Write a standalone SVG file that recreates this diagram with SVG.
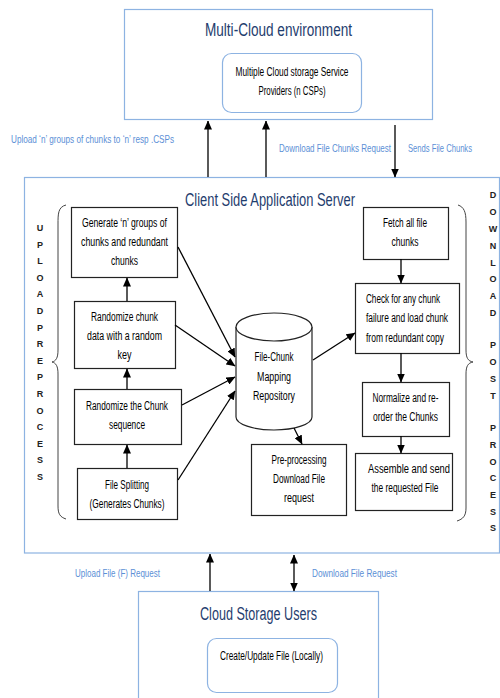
<svg xmlns="http://www.w3.org/2000/svg" width="500" height="698" viewBox="0 0 500 698">
  <defs>
    <marker id="arrow" markerUnits="userSpaceOnUse" markerWidth="9" markerHeight="8" refX="8.5" refY="4" orient="auto-start-reverse">
      <path d="M0,0 L9,4 L0,8 z" fill="#000"/>
    </marker>
    <style>
      .frame { fill: #fff; stroke: #8db3e2; stroke-width: 1.2; }
      .soft { fill: #fff; stroke: #8db3e2; stroke-width: 1.2; }
      .step { fill: #fff; stroke: #222; stroke-width: 1.2; }
      .title { font-family: "Liberation Sans", Arial, sans-serif; font-size: 18px; fill: #1f3d6e; text-anchor: middle; }
      .t { font-family: "Liberation Sans", Arial, sans-serif; font-size: 12px; fill: #000; text-anchor: middle; }
      .tl { font-family: "Liberation Sans", Arial, sans-serif; font-size: 12px; fill: #000; }
      .lbl { font-family: "Liberation Sans", Arial, sans-serif; font-size: 11px; fill: #5b8fd6; }
      .v { font-family: "Liberation Sans", Arial, sans-serif; font-size: 9px; font-weight: bold; fill: #222; text-anchor: middle; }
      .conn line, .conn path { stroke: #000; stroke-width: 1.3; fill: none; }
      .brace { fill: none; stroke: #444; stroke-width: 1; }
    </style>
  </defs>

  <rect width="500" height="698" fill="#fff"/>

  <!-- Multi-cloud environment -->
  <g id="multi-cloud">
    <rect class="frame" x="124.5" y="9.5" width="308" height="110"/>
    <text class="title" x="278.5" y="36" textLength="147" lengthAdjust="spacingAndGlyphs">Multi-Cloud environment</text>
    <rect class="soft" x="222.5" y="53.5" width="139" height="59" rx="9"/>
    <text class="t" x="292" y="76" textLength="113" lengthAdjust="spacingAndGlyphs">Multiple Cloud storage Service</text>
    <text class="t" x="292" y="95" textLength="67" lengthAdjust="spacingAndGlyphs">Providers (n CSPs)</text>
  </g>

  <!-- Client side application server frame -->
  <g id="app-server">
    <rect class="frame" x="24.5" y="177.5" width="475" height="375.5"/>
    <text class="title" x="270" y="206" textLength="170" lengthAdjust="spacingAndGlyphs">Client Side Application Server</text>
  </g>

  <!-- Upload pre-process side label and brace -->
  <g id="upload-preprocess">
    <path class="brace" d="M66,205 C58,207 58,214 58,224 L58,350 C58,358 56,361 52,362 C56,363 58,366 58,374 L58,506 C58,514 60,517 66,519"/>
    <g class="v">
      <text x="40" y="231">U</text><text x="40" y="248">P</text><text x="40" y="264">L</text><text x="40" y="281">O</text>
      <text x="40" y="297">A</text><text x="40" y="314">D</text><text x="40" y="331">P</text><text x="40" y="347">R</text>
      <text x="40" y="364">E</text><text x="40" y="380">P</text><text x="40" y="397">R</text><text x="40" y="414">O</text>
      <text x="40" y="430">C</text><text x="40" y="447">E</text><text x="40" y="463">S</text><text x="40" y="480">S</text>
    </g>
  </g>

  <!-- Download post-process side label and brace -->
  <g id="download-postprocess">
    <path class="brace" d="M458,205 C464,207 466,212 466,222 L466,350 C466,358 468,361 473,362 C468,363 466,366 466,374 L466,508 C466,516 463,519 457,521"/>
    <g class="v">
      <text x="493" y="198">D</text><text x="493" y="215">O</text><text x="493" y="232">W</text><text x="493" y="249">N</text>
      <text x="493" y="266">L</text><text x="493" y="282">O</text><text x="493" y="299">A</text><text x="493" y="316">D</text>
      <text x="493" y="348">P</text><text x="493" y="365">O</text><text x="493" y="382">S</text><text x="493" y="399">T</text>
      <text x="493" y="431">P</text><text x="493" y="448">R</text><text x="493" y="465">O</text><text x="493" y="481">C</text>
      <text x="493" y="498">E</text><text x="493" y="515">S</text><text x="493" y="531">S</text>
    </g>
  </g>

  <!-- Upload steps -->
  <g id="generate-groups">
    <rect class="step" x="71.5" y="207.5" width="106" height="70"/>
    <text class="t" x="124.5" y="227" textLength="85" lengthAdjust="spacingAndGlyphs">Generate ‘n’ groups of</text>
    <text class="t" x="124.5" y="246" textLength="87" lengthAdjust="spacingAndGlyphs">chunks and redundant</text>
    <text class="t" x="124.5" y="265" textLength="27" lengthAdjust="spacingAndGlyphs">chunks</text>
  </g>
  <g id="randomize-data">
    <rect class="step" x="74.5" y="301.5" width="101" height="67"/>
    <text class="t" x="124.5" y="321" textLength="67" lengthAdjust="spacingAndGlyphs">Randomize chunk</text>
    <text class="t" x="124.5" y="340" textLength="75" lengthAdjust="spacingAndGlyphs">data with a random</text>
    <text class="t" x="124.5" y="359" textLength="14" lengthAdjust="spacingAndGlyphs">key</text>
  </g>
  <g id="randomize-sequence">
    <rect class="step" x="74.5" y="389.5" width="107" height="55"/>
    <text class="t" x="127" y="410" textLength="82" lengthAdjust="spacingAndGlyphs">Randomize the Chunk</text>
    <text class="t" x="127" y="429" textLength="36" lengthAdjust="spacingAndGlyphs">sequence</text>
  </g>
  <g id="file-splitting">
    <rect class="step" x="77.5" y="468.5" width="100" height="51"/>
    <text class="t" x="127" y="489" textLength="44" lengthAdjust="spacingAndGlyphs">File Splitting</text>
    <text class="t" x="127" y="508" textLength="75" lengthAdjust="spacingAndGlyphs">(Generates Chunks)</text>
  </g>

  <!-- Mapping repository -->
  <g id="repository">
    <path class="step" d="M236,327 L236,417 A38,13 0 0 0 312,417 L312,327"/>
    <ellipse class="step" cx="274" cy="327" rx="38" ry="14"/>
    <text class="t" x="274" y="361" textLength="39" lengthAdjust="spacingAndGlyphs">File-Chunk</text>
    <text class="t" x="274" y="381" textLength="34" lengthAdjust="spacingAndGlyphs">Mapping</text>
    <text class="t" x="274" y="400" textLength="42" lengthAdjust="spacingAndGlyphs">Repository</text>
  </g>
  <g id="preprocess-download">
    <rect class="step" x="251.5" y="444.5" width="95" height="71"/>
    <text class="t" x="299" y="464" textLength="55" lengthAdjust="spacingAndGlyphs">Pre-processing</text>
    <text class="t" x="299" y="483" textLength="52" lengthAdjust="spacingAndGlyphs">Download File</text>
    <text class="t" x="299" y="502" textLength="30" lengthAdjust="spacingAndGlyphs">request</text>
  </g>

  <!-- Download steps -->
  <g id="fetch-chunks">
    <rect class="step" x="363.5" y="207.5" width="85" height="52"/>
    <text class="t" x="405" y="227" textLength="44" lengthAdjust="spacingAndGlyphs">Fetch all file</text>
    <text class="t" x="405" y="246" textLength="27" lengthAdjust="spacingAndGlyphs">chunks</text>
  </g>
  <g id="check-failure">
    <rect class="step" x="355.5" y="283.5" width="104" height="70"/>
    <text class="tl" x="366" y="303" textLength="74" lengthAdjust="spacingAndGlyphs">Check for any chunk</text>
    <text class="tl" x="366" y="322" textLength="82" lengthAdjust="spacingAndGlyphs">failure and load chunk</text>
    <text class="tl" x="366" y="342" textLength="78" lengthAdjust="spacingAndGlyphs">from redundant copy</text>
  </g>
  <g id="normalize">
    <rect class="step" x="362.5" y="382.5" width="87" height="54"/>
    <text class="t" x="405.5" y="402" textLength="66" lengthAdjust="spacingAndGlyphs">Normalize and re-</text>
    <text class="t" x="405.5" y="421" textLength="65" lengthAdjust="spacingAndGlyphs">order the Chunks</text>
  </g>
  <g id="assemble">
    <rect class="step" x="355.5" y="453.5" width="97" height="57"/>
    <text class="t" x="409" y="473" textLength="82" lengthAdjust="spacingAndGlyphs">Assemble and send</text>
    <text class="t" x="405" y="492" textLength="67" lengthAdjust="spacingAndGlyphs">the requested File</text>
  </g>

  <!-- Cloud storage users -->
  <g id="users">
    <rect class="frame" x="138.5" y="591.5" width="240" height="120"/>
    <text class="title" x="258.5" y="620" textLength="117" lengthAdjust="spacingAndGlyphs">Cloud Storage Users</text>
    <rect class="soft" x="207.5" y="638.5" width="130" height="54" rx="9"/>
    <text class="t" x="271.5" y="660" textLength="103" lengthAdjust="spacingAndGlyphs">Create/Update File (Locally)</text>
  </g>

  <!-- Connector labels -->
  <g id="labels">
    <text class="lbl" x="11" y="143" textLength="163" lengthAdjust="spacingAndGlyphs">Upload ‘n’ groups of chunks to ‘n’ resp .CSPs</text>
    <text class="lbl" x="279" y="152" textLength="112" lengthAdjust="spacingAndGlyphs">Download File Chunks Request</text>
    <text class="lbl" x="408" y="152" textLength="64" lengthAdjust="spacingAndGlyphs">Sends File Chunks</text>
    <text class="lbl" x="75" y="577" textLength="85" lengthAdjust="spacingAndGlyphs">Upload File (F) Request</text>
    <text class="lbl" x="312" y="577" textLength="85" lengthAdjust="spacingAndGlyphs">Download File Request</text>
  </g>

  <!-- Connectors -->
  <g id="connectors" class="conn">
    <line x1="208" y1="177" x2="208" y2="121" marker-end="url(#arrow)"/>
    <line x1="266" y1="177" x2="266" y2="121" marker-end="url(#arrow)"/>
    <line x1="395" y1="125" x2="395" y2="177" marker-end="url(#arrow)"/>
    <line x1="210" y1="591" x2="210" y2="554" marker-end="url(#arrow)"/>
    <line x1="294" y1="555" x2="294" y2="591" marker-start="url(#arrow)" marker-end="url(#arrow)"/>

    <line x1="127" y1="301" x2="127" y2="278" marker-end="url(#arrow)"/>
    <line x1="127" y1="389" x2="127" y2="369" marker-end="url(#arrow)"/>
    <line x1="127" y1="468" x2="127" y2="445" marker-end="url(#arrow)"/>

    <line x1="178" y1="247" x2="235" y2="357" marker-end="url(#arrow)"/>
    <line x1="175" y1="325" x2="235" y2="366" marker-end="url(#arrow)"/>
    <line x1="182" y1="405" x2="235" y2="377" marker-end="url(#arrow)"/>
    <line x1="178" y1="480" x2="235" y2="391" marker-end="url(#arrow)"/>

    <line x1="313" y1="360" x2="355" y2="333" marker-end="url(#arrow)"/>
    <line x1="294" y1="428" x2="302" y2="444" marker-end="url(#arrow)"/>

    <line x1="401" y1="259" x2="401" y2="283" marker-end="url(#arrow)"/>
    <line x1="401" y1="353" x2="401" y2="382" marker-end="url(#arrow)"/>
    <line x1="401" y1="436" x2="401" y2="453" marker-end="url(#arrow)"/>
  </g>
</svg>
